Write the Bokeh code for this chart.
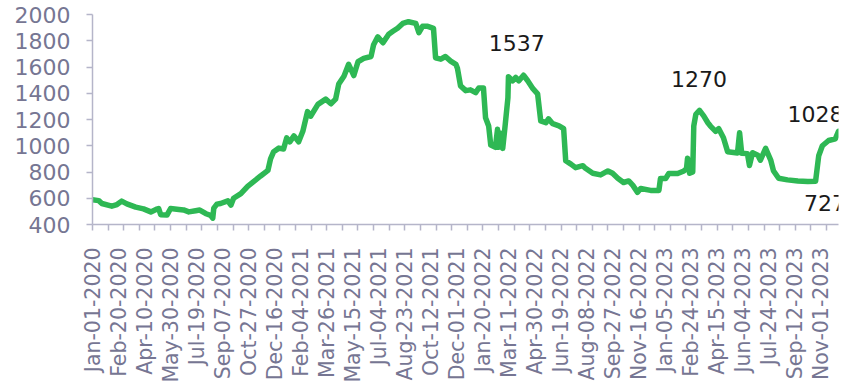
import math
import pandas as pd
from bokeh.plotting import figure
from bokeh.models import Range1d, FixedTicker, ColumnDataSource
from bokeh.core.properties import value
from bokeh.embed import file_html
from bokeh.resources import INLINE

# ---------------- data ----------------
tick_labels = [
    "Jan-01-2020", "Feb-20-2020", "Apr-10-2020", "May-30-2020", "Jul-19-2020",
    "Sep-07-2020", "Oct-27-2020", "Dec-16-2020", "Feb-04-2021", "Mar-26-2021",
    "May-15-2021", "Jul-04-2021", "Aug-23-2021", "Oct-12-2021", "Dec-01-2021",
    "Jan-20-2022", "Mar-11-2022", "Apr-30-2022", "Jun-19-2022", "Aug-08-2022",
    "Sep-27-2022", "Nov-16-2022", "Jan-05-2023", "Feb-24-2023", "Apr-15-2023",
    "Jun-04-2023", "Jul-24-2023", "Sep-12-2023", "Nov-01-2023",
]

dates_2020 = ["2020-01-01", "2020-01-13", "2020-01-19", "2020-02-07", "2020-02-17", "2020-02-26",
              "2020-03-07", "2020-03-24", "2020-04-08", "2020-04-22", "2020-05-02", "2020-05-07",
              "2020-05-11", "2020-05-23", "2020-05-30", "2020-06-15", "2020-06-24", "2020-07-04",
              "2020-07-17", "2020-07-25", "2020-08-06", "2020-08-15", "2020-08-19", "2020-08-21",
              "2020-08-27", "2020-09-03", "2020-09-17", "2020-09-23", "2020-09-28", "2020-10-12",
              "2020-10-25", "2020-11-06", "2020-11-19", "2020-12-03", "2020-12-08", "2020-12-14",
              "2020-12-24"]
values_2020 = [588, 582, 560, 540, 552, 578, 557, 532, 519, 496, 515, 522,
               475, 472, 522, 515, 511, 496, 505, 510, 482, 470, 448, 525,
               555, 560, 580, 548, 600, 635, 690, 728, 770, 812, 900, 955, 982]

dates_2021 = ["2021-01-02", "2021-01-08", "2021-01-14", "2021-01-22", "2021-01-31", "2021-02-08",
              "2021-02-17", "2021-02-23", "2021-03-09", "2021-03-24", "2021-04-03", "2021-04-12",
              "2021-04-18", "2021-04-28", "2021-05-07", "2021-05-17", "2021-05-25", "2021-06-05",
              "2021-06-19", "2021-06-24", "2021-07-02", "2021-07-12", "2021-07-23", "2021-07-31",
              "2021-08-09", "2021-08-19", "2021-08-30", "2021-09-13", "2021-09-19", "2021-09-26",
              "2021-10-06", "2021-10-17", "2021-10-21", "2021-10-31", "2021-11-09", "2021-11-19",
              "2021-11-29", "2021-12-02", "2021-12-08", "2021-12-18", "2021-12-27"]
values_2021 = [975, 1060, 1030, 1075, 1030, 1110, 1260, 1225, 1315, 1355, 1320, 1355,
               1470, 1530, 1620, 1535, 1640, 1665, 1680, 1770, 1830, 1785, 1850, 1872,
               1895, 1932, 1945, 1932, 1862, 1910, 1910, 1895, 1670, 1660, 1680, 1645,
               1620, 1590, 1456, 1420, 1426]

dates_2022 = ["2022-01-06", "2022-01-12", "2022-01-21", "2022-01-25", "2022-01-31", "2022-02-04",
              "2022-02-13", "2022-02-17", "2022-02-19", "2022-02-23", "2022-02-27", "2022-03-03",
              "2022-03-09", "2022-03-10", "2022-03-18", "2022-03-24", "2022-03-30", "2022-04-08",
              "2022-04-16", "2022-04-26", "2022-05-05", "2022-05-11", "2022-05-21", "2022-05-26",
              "2022-06-03", "2022-06-15", "2022-06-24", "2022-06-28", "2022-07-08", "2022-07-17",
              "2022-07-31", "2022-08-05", "2022-08-19", "2022-09-03", "2022-09-17", "2022-09-26",
              "2022-10-06", "2022-10-17", "2022-10-27", "2022-11-04", "2022-11-13", "2022-11-19",
              "2022-12-08", "2022-12-24", "2022-12-27"]
values_2022 = [1405, 1440, 1440, 1213, 1150, 1005, 988, 1125, 988, 1095, 980, 1130,
               1365, 1525, 1495, 1520, 1495, 1537, 1495, 1435, 1396, 1190, 1175, 1205,
               1168, 1152, 1130, 886, 860, 833, 848, 828, 790, 778, 808, 790,
               752, 720, 732, 698, 645, 674, 660, 660, 750]

dates_2023 = ["2023-01-06", "2023-01-12", "2023-01-29", "2023-02-10", "2023-02-15", "2023-02-17",
              "2023-02-21", "2023-02-27", "2023-03-01", "2023-03-05", "2023-03-12", "2023-03-20",
              "2023-03-28", "2023-04-02", "2023-04-12", "2023-04-18", "2023-04-27", "2023-05-05",
              "2023-05-24", "2023-05-28", "2023-06-01", "2023-06-12", "2023-06-16", "2023-06-22",
              "2023-07-02", "2023-07-07", "2023-07-17", "2023-07-27", "2023-08-01", "2023-08-11",
              "2023-08-28", "2023-09-17", "2023-10-06", "2023-10-21", "2023-10-27", "2023-11-03",
              "2023-11-15", "2023-11-28", "2023-12-04"]
values_2023 = [750, 788, 788, 808, 825, 905, 790, 800, 1150, 1240, 1270, 1228,
               1175, 1150, 1110, 1130, 1061, 955, 945, 1099, 942, 940, 850, 947,
               928, 890, 980, 888, 810, 752, 740, 732, 727, 730, 924, 1000,
               1040, 1053, 1110]

ann_dates = ["2022-03-26", "2023-03-11", "2023-10-21", "2023-11-08"]
ann_values = [1537, 1270, 1028, 727]

y_ticks = [400, 600, 800, 1000, 1200, 1400, 1600, 1800, 2000]

# ---------------- derived ----------------
origin = pd.Timestamp("2020-01-01")
dates = dates_2020 + dates_2021 + dates_2022 + dates_2023
values = values_2020 + values_2021 + values_2022 + values_2023
days = [(pd.Timestamp(d) - origin).days for d in dates]
tick_days = [(pd.to_datetime(t, format="%b-%d-%Y") - origin).days for t in tick_labels]
minor_days = list(range(0, days[-1], 30))
ann_days = [(pd.Timestamp(d) - origin).days for d in ann_dates]
label_dy = [-32, -31, -28, 21]

FONT = "DejaVu Sans"
LABEL_COLOR = "#767693"
AXIS_COLOR = "#b5b5c9"

p = figure(width=846, height=391,
           x_range=Range1d(0, days[-1]), y_range=Range1d(400, 2000),
           output_backend="svg", toolbar_location=None,
           min_border_left=92, min_border_right=8,
           min_border_top=14, min_border_bottom=167)
p.outline_line_color = None
p.xgrid.visible = False
p.ygrid.visible = False
p.background_fill_color = "white"
p.border_fill_color = "white"

p.line(days, values, line_color="#2eb854", line_width=5.5,
       line_join="round", line_cap="round")

src = ColumnDataSource(dict(x=ann_days, y=ann_values,
                            t=[str(v) for v in ann_values], dy=label_dy))
p.text(x="x", y="y", text="t", y_offset="dy", source=src,
       text_font=value(FONT), text_font_size="22px", text_color="#1a1a1a",
       text_align="center", text_baseline="middle")

xa = p.xaxis[0]
xa.ticker = FixedTicker(ticks=tick_days, minor_ticks=minor_days)
xa.major_label_overrides = {d: t for d, t in zip(tick_days, tick_labels)}
xa.major_label_orientation = math.pi / 2
xa.major_tick_out = 0
xa.major_tick_in = 0
xa.minor_tick_out = 6
xa.minor_tick_in = 0
xa.major_label_standoff = 17
xa.major_label_text_font_size = "20.5px"

ya = p.yaxis[0]
ya.ticker = FixedTicker(ticks=y_ticks)
ya.major_tick_out = 6
ya.major_tick_in = 0
ya.minor_tick_out = 0
ya.minor_tick_in = 0
ya.major_label_standoff = 16
ya.major_label_text_font_size = "22px"

for ax in (xa, ya):
    ax.axis_line_color = AXIS_COLOR
    ax.axis_line_width = 1.5
    ax.major_tick_line_color = AXIS_COLOR
    ax.major_tick_line_width = 1.5
    ax.minor_tick_line_color = AXIS_COLOR
    ax.minor_tick_line_width = 1.5
    ax.major_label_text_font = FONT
    ax.major_label_text_color = LABEL_COLOR

open("out.html", "w").write(file_html(p, INLINE))
